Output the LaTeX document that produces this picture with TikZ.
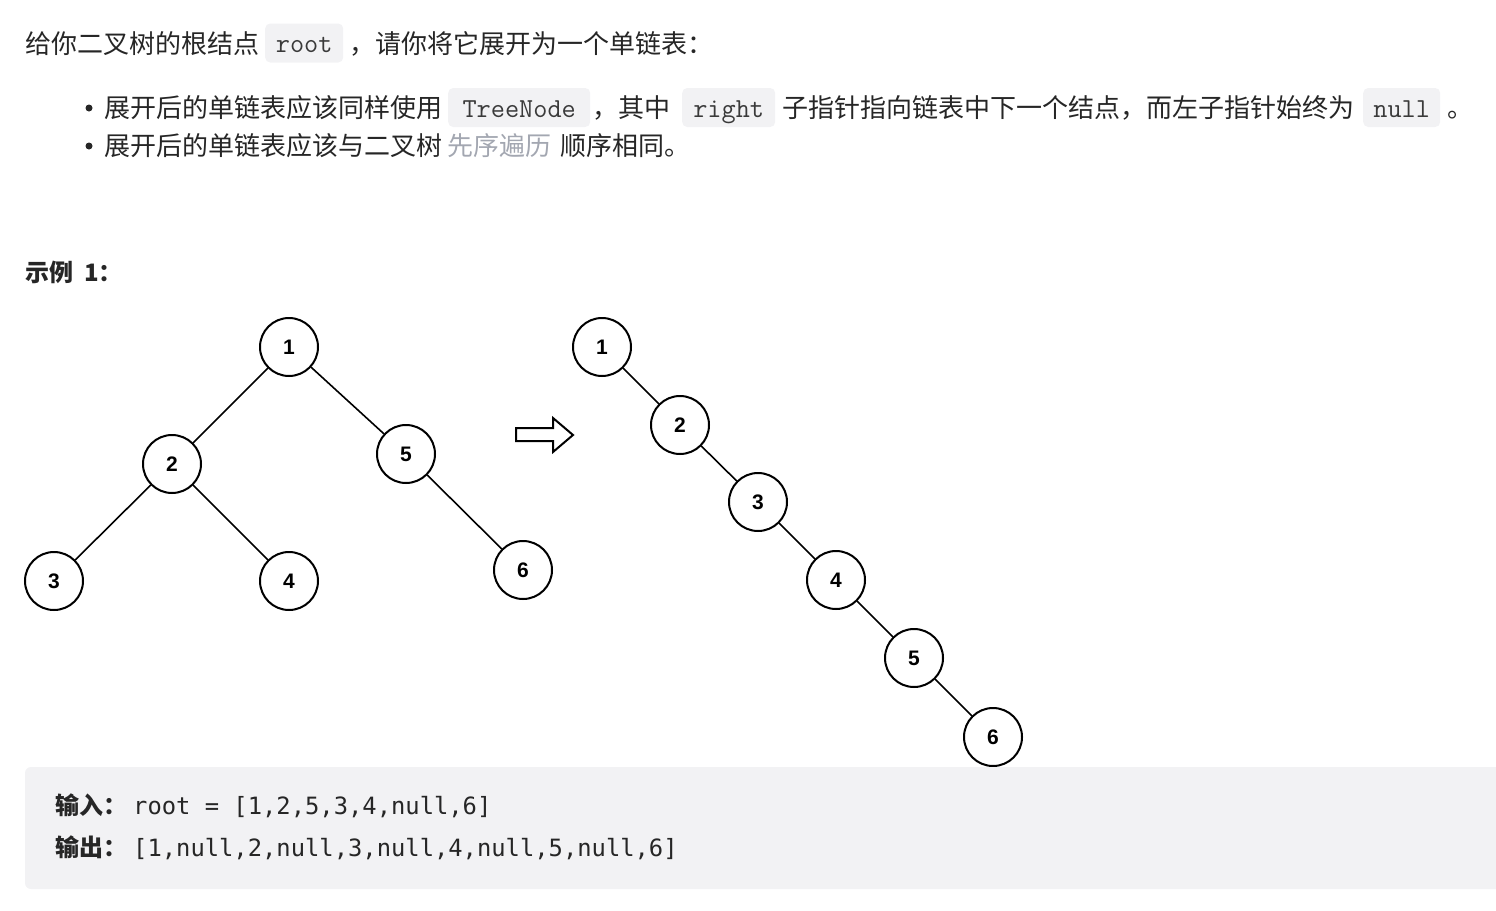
\documentclass[tikz,border=0pt]{standalone}
\usepackage{fontspec}
\setmainfont{Noto Sans CJK SC}
\newfontfamily\numfont{Liberation Sans}
\newfontfamily\codefont{DejaVu Sans Mono}
\usetikzlibrary{positioning}
\definecolor{txt}{RGB}{38,38,38}
\definecolor{codebg}{RGB}{242,242,244}
\definecolor{codetxt}{RGB}{58,58,58}
\definecolor{linkgray}{RGB}{163,167,177}
\tikzset{
	tnode/.style={circle, draw=black, line width=2pt, minimum size=58pt, inner sep=0pt, font=\numfont\bfseries\fontsize{21pt}{21pt}\selectfont},
	tedge/.style={line width=1.6pt},
	body/.style={anchor=base west, inner sep=0pt, text=txt, font=\fontsize{26pt}{31pt}\selectfont},
	inl/.style={anchor=west, fill=codebg, rounded corners=5pt, inner sep=0pt, minimum height=39pt, text height=29pt, text depth=10pt, text=codetxt, font=\ttfamily\fontsize{27.5pt}{27pt}\selectfont},
	dot/.style={circle, fill=txt, minimum size=7pt, inner sep=0pt},
	io/.style={anchor=base west, inner sep=0pt, text=txt, font=\fontsize{24pt}{29pt}\selectfont}
}

\begin{document}
\begin{tikzpicture}[x=1pt, y=-1pt]
	%%%%% START %%%%%
	\useasboundingbox (0,0) rectangle (1496,910);
	\clip (0,0) rectangle (1496,910);
	
	% text above
	\node[body] (l1a) at (25,53) {给你二叉树的根结点};
	\node[inl, minimum width=78pt] (c1) at (265,43) {root};
	\node[body] (l1b) at (349,53) {，请你将它展开为一个单链表：};
	
	\node[dot] (d1) at (89,108) {};
	\node[body] (l2a) at (104,117) {展开后的单链表应该同样使用};
	\node[inl, minimum width=142pt] (c2) at (448,107.5) {TreeNode};
	\node[body] (l2b) at (592,117) {，其中};
	\node[inl, minimum width=93pt] (c3) at (682,107.5) {right};
	\node[body] (l2c) at (782,117) {子指针指向链表中下一个结点，而左子指针始终为};
	\node[inl, minimum width=77pt] (c4) at (1363,107.5) {null};
	\node[body] (l2d) at (1447,117) {。};
	
	\node[dot] (d2) at (89,146) {};
	\node[body] (l3a) at (104,155) {展开后的单链表应该与二叉树};
	\node[body, text=linkgray] (l3b) at (447,155) {先序遍历};
	\node[body] (l3c) at (560,155) {顺序相同。};
	
	\node[io, font=\bfseries\fontsize{24pt}{29pt}\selectfont] (ex) at (25,281) {示例\hspace{11pt}1：};
	
	% tree before
	\node[tnode] (a1) at (289,347) {1};
	\node[tnode] (a2) at (172,464) {2};
	\node[tnode] (a5) at (406,454) {5};
	\node[tnode] (a3) at (54,581) {3};
	\node[tnode] (a4) at (289,581) {4};
	\node[tnode] (a6) at (523,570) {6};
	\draw[tedge] (a1) -- (a2);
	\draw[tedge] (a1) -- (a5);
	\draw[tedge] (a2) -- (a3);
	\draw[tedge] (a2) -- (a4);
	\draw[tedge] (a5) -- (a6);
	
	% hollow arrow
	\draw[line width=2pt, line join=miter] (516,428) -- (553,428) -- (553,418) -- (573,435) -- (553,452) -- (553,441) -- (516,441) -- cycle;
	
	% tree after
	\node[tnode] (b1) at (602,347) {1};
	\node[tnode] (b2) at (680,425) {2};
	\node[tnode] (b3) at (758,502) {3};
	\node[tnode] (b4) at (836,580) {4};
	\node[tnode] (b5) at (914,658) {5};
	\node[tnode] (b6) at (993,737) {6};
	\draw[tedge] (b1) -- (b2);
	\draw[tedge] (b2) -- (b3);
	\draw[tedge] (b3) -- (b4);
	\draw[tedge] (b4) -- (b5);
	\draw[tedge] (b5) -- (b6);
	
	% input / output box
	\fill[codebg, rounded corners=6pt] (25,767) rectangle (1530,889);
	\node[io, font=\bfseries\fontsize{24pt}{29pt}\selectfont] (in) at (55,814) {输入：};
	\node[io, font=\codefont\fontsize{23.8pt}{29pt}\selectfont] (inv) at (133,814) {root = [1,2,5,3,4,null,6]};
	\node[io, font=\bfseries\fontsize{24pt}{29pt}\selectfont] (out) at (55,856) {输出：};
	\node[io, font=\codefont\fontsize{23.8pt}{29pt}\selectfont] (outv) at (133,856) {[1,null,2,null,3,null,4,null,5,null,6]};
	%%%%% END %%%%%
\end{tikzpicture}
\end{document}
